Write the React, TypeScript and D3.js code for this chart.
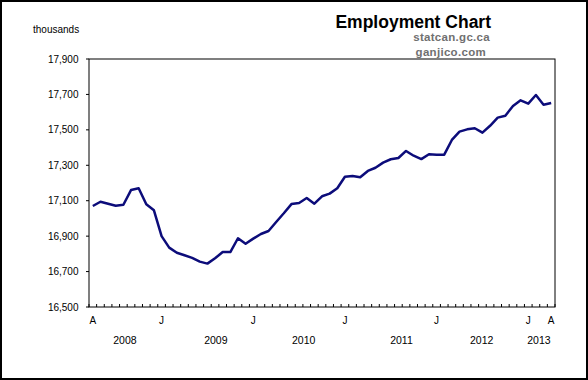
import React from "react";
import * as d3 from "d3";

const employment: number[] = [
  17070, 17094, 17083, 17072, 17077, 17160, 17170, 17080, 17046, 16900,
  16835, 16806, 16792, 16777, 16756, 16745, 16775, 16810, 16810, 16888,
  16857, 16886, 16912, 16929, 16980, 17029, 17081, 17087, 17115, 17083,
  17125, 17140, 17170, 17235, 17240, 17232, 17268, 17286, 17315, 17334,
  17341, 17381, 17354, 17335, 17362, 17360, 17360, 17443, 17490, 17503,
  17509, 17484, 17523, 17569, 17580, 17635, 17667, 17648, 17697, 17642,
  17652,
];

const months: string[] = d3
  .timeMonth.range(new Date(2008, 3, 1), new Date(2013, 4, 1))
  .map((d) => d3.timeFormat("%Y-%m")(d));

const yTicks: number[] = [16500, 16700, 16900, 17100, 17300, 17500, 17700, 17900];
const monthLabelIdx: number[] = [0, 9, 21, 33, 45, 57, 60];
const monthLabelText: string[] = ["A", "J", "J", "J", "J", "J", "A"];
const yearLabels: string[] = ["2008", "2009", "2010", "2011", "2012", "2013"];
const yearLabelPos: number[] = [4.2, 16.1, 27.6, 40.4, 50.9, 58.4];

const W = 588;
const H = 380;
const L = 89, R = 555, T = 59, B = 307;
const FONT = "'Liberation Sans', Arial, sans-serif";

export default function App() {
  const x = d3.scaleBand<string>().domain(months).range([L, R]).padding(0);
  const bw = x.bandwidth();
  const cx = (i: number) => (x(months[i]) as number) + bw / 2;
  const xPos = (p: number) => L + bw * (p + 0.5);
  const y = d3.scaleLinear().domain([16500, 17900]).range([B, T]);

  const line = d3
    .line<number>()
    .x((_, i) => cx(i))
    .y((d) => y(d));

  const boundaries = d3.range(months.length + 1).map((k) => L + bw * k);

  return (
    <svg
      width={W}
      height={H}
      style={{ position: "absolute", left: 0, top: 0, background: "#fff" }}
      fontFamily={FONT}
    >
      <rect x={0} y={0} width={W} height={H} fill="#fff" />
      <rect x={1} y={1} width={W - 2} height={H - 2} fill="none" stroke="#000" strokeWidth={2} />

      <text x={491} y={28} textAnchor="end" fontSize={17.5} fontWeight="bold" fill="#000">
        Employment Chart
      </text>
      <text x={490} y={40.5} textAnchor="end" fontSize={11.5} fontWeight="bold" fill="#707070" letterSpacing={0.3}>
        statcan.gc.ca
      </text>
      <text x={486} y={55.5} textAnchor="end" fontSize={11.5} fontWeight="bold" fill="#707070" letterSpacing={0.3}>
        ganjico.com
      </text>
      <text x={33} y={33} fontSize={10} fill="#000">
        thousands
      </text>

      {/* plot frame */}
      <rect x={L} y={T} width={R - L} height={B - T} fill="#fff" stroke="#000" strokeWidth={1} />

      {/* y ticks & labels */}
      {yTicks.map((t) => (
        <g key={t}>
          <line x1={L - 3} x2={L} y1={y(t)} y2={y(t)} stroke="#000" strokeWidth={1} />
          <text x={78.5} y={y(t) + 3.5} textAnchor="end" fontSize={10} fill="#000">
            {d3.format(",")(t)}
          </text>
        </g>
      ))}

      {/* x ticks (inside) */}
      {boundaries.map((b, k) => (
        <line key={k} x1={b} x2={b} y1={B - 3} y2={B} stroke="#000" strokeWidth={1} />
      ))}

      {monthLabelIdx.map((i, k) => (
        <text key={k} x={cx(i)} y={323.5} textAnchor="middle" fontSize={10} fill="#000">
          {monthLabelText[k]}
        </text>
      ))}
      {yearLabels.map((yl, k) => (
        <text key={yl} x={xPos(yearLabelPos[k])} y={344} textAnchor="middle" fontSize={10.5} fill="#000">
          {yl}
        </text>
      ))}

      <path
        d={line(employment) || ""}
        fill="none"
        stroke="#0c0c7a"
        strokeWidth={2.5}
        strokeLinejoin="round"
      />
    </svg>
  );
}
